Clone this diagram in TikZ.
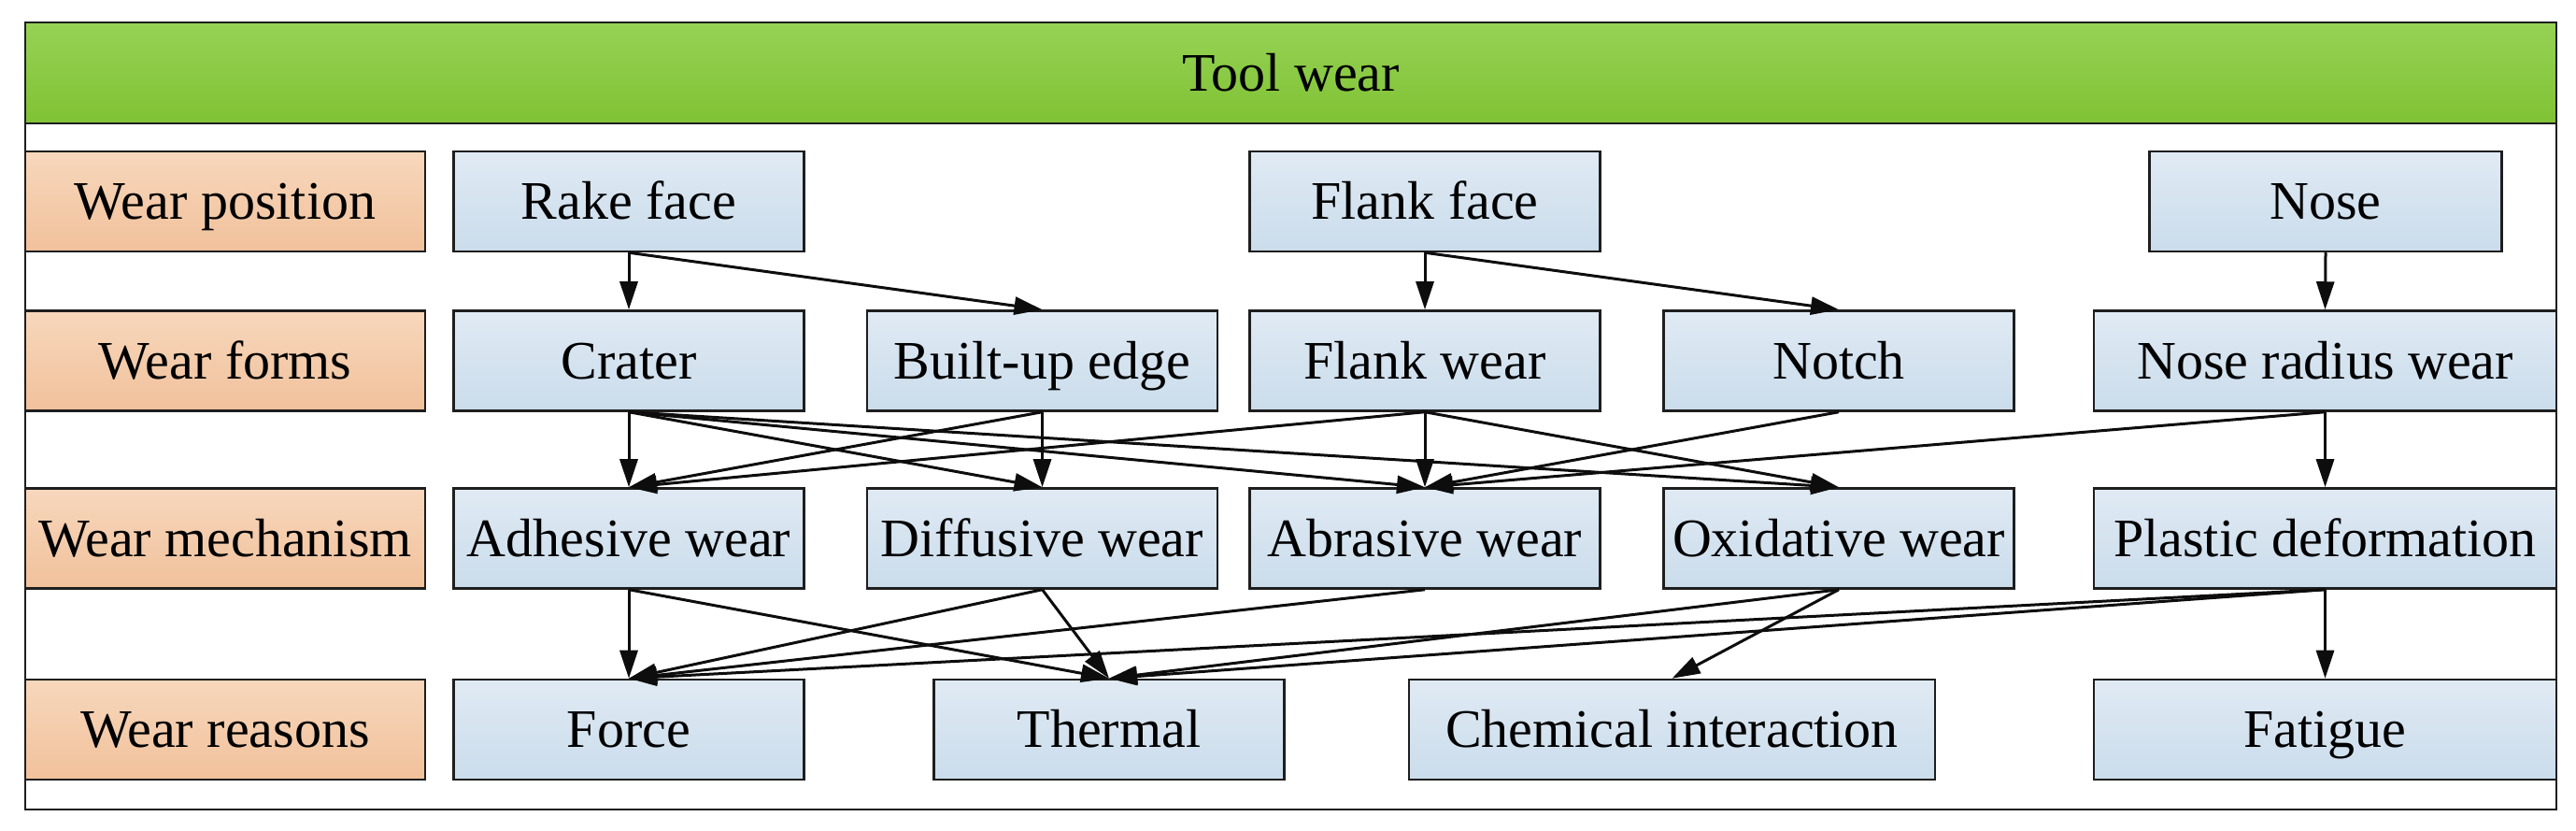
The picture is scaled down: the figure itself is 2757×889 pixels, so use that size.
\documentclass[tikz,border=0pt]{standalone}
\usepackage{fontspec}
\setmainfont{Liberation Serif}
\usetikzlibrary{arrows.meta}
\definecolor{gtop}{RGB}{150,210,85}
\definecolor{gbot}{RGB}{128,194,52}
\definecolor{otop}{RGB}{247,215,188}
\definecolor{obot}{RGB}{241,193,155}
\definecolor{btop}{RGB}{224,234,244}
\definecolor{bbot}{RGB}{202,220,235}
\definecolor{edge}{RGB}{30,30,30}
\tikzset{
  box/.style={draw=edge, line width=0.25mm, minimum height=10.7mm, inner sep=0pt,
    font=\fontsize{16.5}{19}\selectfont, text=black, text height=10.9pt, text depth=0pt},
  bluebox/.style={box, top color=btop, bottom color=bbot, minimum width=37.5mm},
  labelbox/.style={box, top color=otop, bottom color=obot, minimum width=42.8mm},
  titlebox/.style={box, top color=gtop, bottom color=gbot, minimum width=270.9mm, minimum height=10.8mm},
  conn/.style={draw=black!95, line width=0.3mm, -{Triangle[length=3mm,width=1.9mm]}},
}
\begin{document}
\begin{tikzpicture}[x=0.1mm, y=-0.1mm]
\useasboundingbox (0,0) rectangle (2757,889);
% outer frame
\draw[edge, line width=0.22mm] (27,24) rectangle (2736,866);
\node[titlebox] (title) at (1381.5,78) {Tool wear};
% label column
\node[labelbox] (l1) at (241,215.5) {Wear position};
\node[labelbox] (l2) at (241,386) {Wear forms};
\node[labelbox] (l3) at (241,576) {Wear mechanism};
\node[labelbox] (l4) at (241,780.5) {Wear reasons};
% row 1
\node[bluebox] (rake) at (673,215.5) {Rake face};
\node[bluebox] (flankf) at (1525,215.5) {Flank face};
\node[bluebox, minimum width=37.7mm] (nose) at (2489,215.5) {Nose};
% row 2
\node[bluebox] (crater) at (673,386) {Crater};
\node[bluebox] (bue) at (1115.5,386) {Built-up edge};
\node[bluebox] (flankw) at (1525,386) {Flank wear};
\node[bluebox] (notch) at (1968,386) {Notch};
\node[bluebox, minimum width=49.5mm] (noser) at (2488.5,386) {Nose radius wear};
% row 3
\node[bluebox] (adh) at (673,576) {Adhesive wear};
\node[bluebox] (dif) at (1115.5,576) {Diffusive wear};
\node[bluebox] (abr) at (1525,576) {Abrasive wear};
\node[bluebox] (oxi) at (1968,576) {Oxidative wear};
\node[bluebox, minimum width=49.5mm] (pla) at (2488.5,576) {Plastic deformation};
% row 4
\node[bluebox] (force) at (673,780.5) {Force};
\node[bluebox] (therm) at (1187,780.5) {Thermal};
\node[bluebox, minimum width=56.3mm] (chem) at (1789.5,780.5) {Chemical interaction};
\node[bluebox, minimum width=49.5mm] (fat) at (2488.5,780.5) {Fatigue};
% connectors row 1 -> 2
\draw[conn] (rake.south) -- (crater.north);
\draw[conn] (rake.south) -- (bue.north);
\draw[conn] (flankf.south) -- (flankw.north);
\draw[conn] (flankf.south) -- (notch.north);
\draw[conn] (nose.south) -- (noser.north);
% row 2 -> 3
\draw[conn] (crater.south) -- (adh.north);
\draw[conn] (crater.south) -- (dif.north);
\draw[conn] (crater.south) -- (abr.north);
\draw[conn] (crater.south) -- (oxi.north);
\draw[conn] (bue.south) -- (adh.north);
\draw[conn] (bue.south) -- (dif.north);
\draw[conn] (flankw.south) -- (adh.north);
\draw[conn] (flankw.south) -- (abr.north);
\draw[conn] (flankw.south) -- (oxi.north);
\draw[conn] (notch.south) -- (abr.north);
\draw[conn] (noser.south) -- (abr.north);
\draw[conn] (noser.south) -- (pla.north);
% row 3 -> 4
\draw[conn] (adh.south) -- (force.north);
\draw[conn] (adh.south) -- (therm.north);
\draw[conn] (dif.south) -- (force.north);
\draw[conn] (dif.south) -- (therm.north);
\draw[conn] (abr.south) -- (force.north);
\draw[conn] (oxi.south) -- (therm.north);
\draw[conn] (oxi.south) -- (chem.north);
\draw[conn] (pla.south) -- (force.north);
\draw[conn] (pla.south) -- (therm.north);
\draw[conn] (pla.south) -- (fat.north);
\end{tikzpicture}
\end{document}
